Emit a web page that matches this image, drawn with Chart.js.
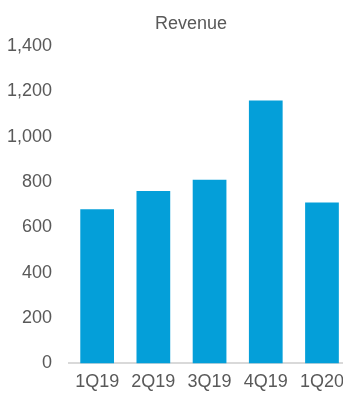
<!DOCTYPE html>
<html>
<head>
<meta charset="utf-8">
<script src="https://cdn.jsdelivr.net/npm/chart.js@4"></script>
<style>
    body { margin: 0; overflow: hidden; background: #fff; }
    #wrap { position: relative; width: 343px; height: 394px; overflow: hidden; }
    /* shifted left so the axis box lines up; the plot runs past the right edge */
    #revenue { display: block; margin-left: -10px; }
    #title {
        position: absolute;
        left: 155px;
        top: 13px;
        font: 18px "Liberation Sans", Arial, sans-serif;
        line-height: 20px;
        color: #595959;
    }
</style>
</head>
<body>
<div id="wrap">
    <div id="title">Revenue</div>
    <canvas id="revenue" width="362" height="401"></canvas>
</div>
<script>
// quarters and revenue per quarter
const quarters = ["1Q19", "2Q19", "3Q19", "4Q19", "1Q20"];
const revenue = [680, 760, 810, 1160, 710];
// y axis range
const yMin = 0;
const yMax = 1400;
const yStep = 200;

const textColor = "#595959";
const font = { family: "'Liberation Sans', Arial, sans-serif", size: 18 };

// get html element
const context = document.getElementById("revenue").getContext("2d");
// make the chart
const revenueChart = new Chart(context, {
    type: "bar",
    data: {
        labels: quarters,
        datasets: [
            {
                label: "Revenue",
                data: revenue,
                backgroundColor: "#049fd9",
                barPercentage: 0.6,
                categoryPercentage: 1,
            },
        ],
    },
    options: {
        responsive: false,
        animation: false,
        layout: {
            padding: { top: 46, left: 0, right: 0, bottom: 0 },
        },
        plugins: {
            legend: { display: false },
            tooltip: { enabled: false },
        },
        scales: {
            x: {
                grid: { display: false, drawTicks: false },
                border: { display: true, color: "#d9d9d9", width: 2 },
                ticks: { color: textColor, font: font, padding: 8 },
            },
            y: {
                min: yMin,
                max: yMax,
                grid: { display: false, drawTicks: false },
                border: { display: false },
                ticks: { stepSize: yStep, color: textColor, font: font, padding: 17 },
            },
        },
    },
});
</script>
</body>
</html>
